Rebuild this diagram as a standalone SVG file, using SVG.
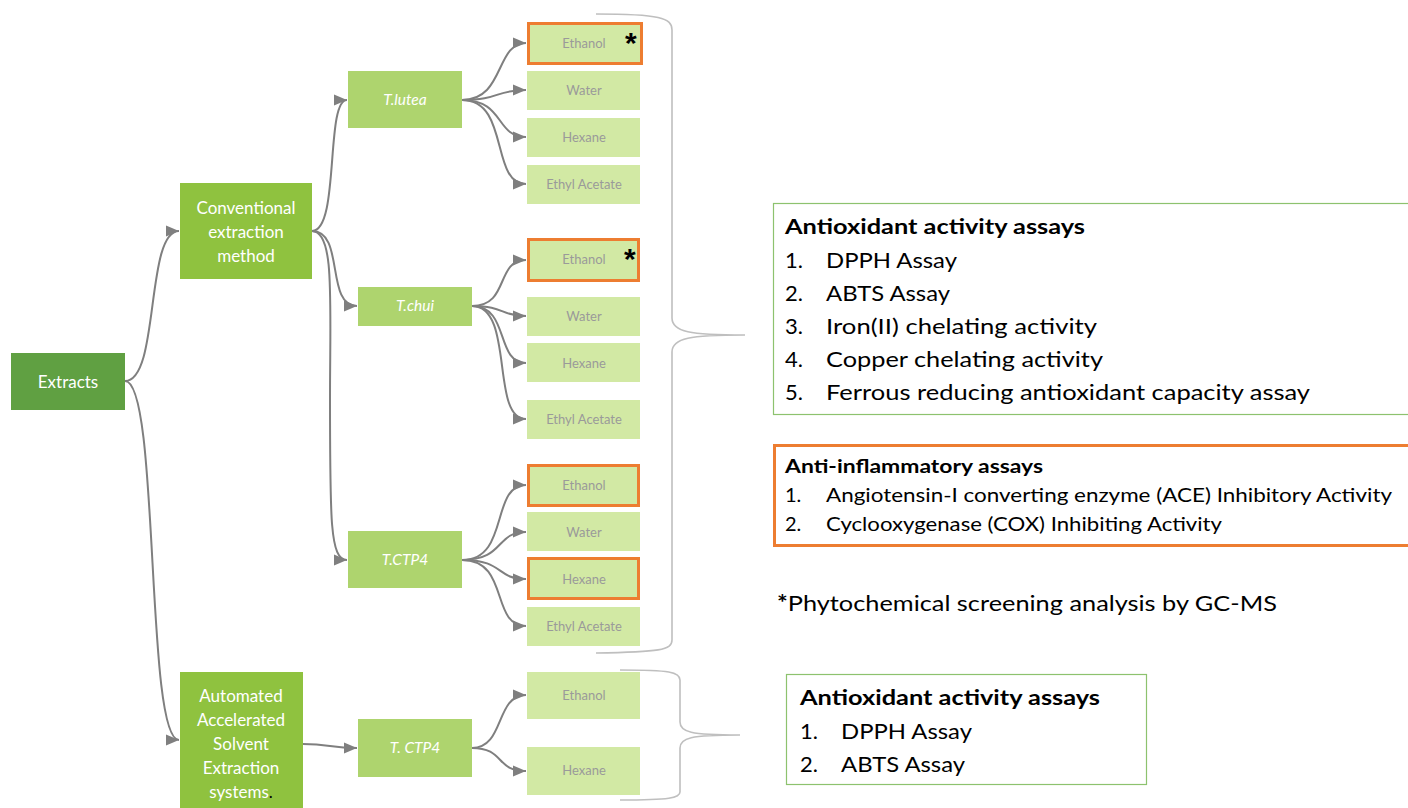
<svg xmlns="http://www.w3.org/2000/svg" width="1408" height="808" viewBox="0 0 1408 808">
<style>
.n0{fill:#60a042}
.n1{fill:#8fc23f}
.n2{fill:#aed46e}
.leaf{fill:#d2e9a4}
.hl{fill:none;stroke:#ed7d31;stroke-width:3}
.t1{font-family:Lato,"Liberation Sans",sans-serif;font-size:17px;fill:#ffffff;text-anchor:middle}
.t2{font-family:Lato,"Liberation Sans",sans-serif;font-size:15.5px;fill:#ffffff;text-anchor:middle;font-style:italic}
.tl{font-family:Lato,"Liberation Sans",sans-serif;font-size:13px;fill:#9a9a9a;text-anchor:middle}
.star{font-family:"Liberation Sans",sans-serif;font-size:30px;font-weight:bold;fill:#000}
.c{fill:none;stroke:#7f7f7f;stroke-width:2}
.br{fill:none;stroke:#bfbfbf;stroke-width:1.6}
.h{font-family:Lato,"Liberation Sans",sans-serif;font-weight:bold;fill:#000}
.b{font-family:Lato,"Liberation Sans",sans-serif;fill:#000}
</style>
<defs>
<marker id="ar" markerUnits="userSpaceOnUse" markerWidth="14" markerHeight="14" viewBox="0 0 14 14" refX="13" refY="7" orient="auto">
<path d="M0,1.5 L13,7 L0,12.5 z" fill="#7f7f7f"/>
</marker>
</defs>
<rect width="1408" height="808" fill="#ffffff"/>

<g id="connectors">
<path class="c" marker-end="url(#ar)" d="M125,381 C160,381 145,231 179,231"/>
<path class="c" marker-end="url(#ar)" d="M125,381 C160,381 145,740 179,740"/>
<path class="c" marker-end="url(#ar)" d="M312,231 C340,231 325,100 347,100"/>
<path class="c" marker-end="url(#ar)" d="M312,231 C345,231 325,306 357,306"/>
<path class="c" marker-end="url(#ar)" d="M312,231 C335,231 330,300 330,400 C330,520 330,560 347,560"/>
<path class="c" marker-end="url(#ar)" d="M462,100 C505,100 495,43 526,43"/>
<path class="c" marker-end="url(#ar)" d="M462,100 C500,100 495,90 526,90"/>
<path class="c" marker-end="url(#ar)" d="M462,100 C505,100 495,137 526,137"/>
<path class="c" marker-end="url(#ar)" d="M462,100 C510,100 490,184 526,184"/>
<path class="c" marker-end="url(#ar)" d="M472,306 C510,306 495,260 526,260"/>
<path class="c" marker-end="url(#ar)" d="M472,306 C505,306 500,316 526,316"/>
<path class="c" marker-end="url(#ar)" d="M472,306 C510,306 495,363 526,363"/>
<path class="c" marker-end="url(#ar)" d="M472,306 C515,306 490,419 526,419"/>
<path class="c" marker-end="url(#ar)" d="M462,560 C510,560 490,485 526,485"/>
<path class="c" marker-end="url(#ar)" d="M462,560 C505,560 495,532 526,532"/>
<path class="c" marker-end="url(#ar)" d="M462,560 C505,560 495,579 526,579"/>
<path class="c" marker-end="url(#ar)" d="M462,560 C510,560 490,626 526,626"/>
<path class="c" marker-end="url(#ar)" d="M303,744 C330,744 330,748 357,748"/>
<path class="c" marker-end="url(#ar)" d="M472,748 C505,748 495,695 526,695"/>
<path class="c" marker-end="url(#ar)" d="M472,748 C505,748 495,771 526,771"/>
</g>

<g id="braces">
<path class="br" d="M596,14 C660,14 672,18 672,30 L672,318 C672,332 690,335 745,335 C690,335 672,338 672,352 L672,640 C672,650 660,652 596,653"/>
<path class="br" d="M620,670 C670,670 680,672 680,680 L680,722 C680,732 690,735 740,735 C690,735 680,738 680,748 L680,792 C680,798 670,800 620,800"/>
</g>

<g id="extracts"><rect class="n0" x="11" y="353" width="114" height="57"/><text class="t1" x="68" y="388">Extracts</text></g>
<g id="conventional"><rect class="n1" x="180" y="183" width="132" height="96"/>
<text class="t1" x="246" y="214">Conventional</text><text class="t1" x="246" y="238">extraction</text><text class="t1" x="246" y="262">method</text></g>
<g id="automated"><rect class="n1" x="180" y="672" width="123" height="136"/>
<text class="t1" x="241" y="702">Automated</text><text class="t1" x="241" y="726">Accelerated</text><text class="t1" x="241" y="750">Solvent</text><text class="t1" x="241" y="774">Extraction</text><text class="t1" x="241" y="798">systems<tspan fill="#000">.</tspan></text></g>

<g id="tlutea"><rect class="n2" x="348" y="71" width="114" height="57"/><text class="t2" x="405" y="105">T.lutea</text></g>
<g id="tchui"><rect class="n2" x="358" y="287" width="114" height="39"/><text class="t2" x="415" y="311">T.chui</text></g>
<g id="tctp4"><rect class="n2" x="348" y="531" width="114" height="57"/><text class="t2" x="405" y="565">T.CTP4</text></g>
<g id="tctp4b"><rect class="n2" x="358" y="719" width="114" height="58"/><text class="t2" x="415" y="753">T. CTP4</text></g>

<g id="lutea-ethanol"><rect class="leaf" x="527" y="23" width="114" height="40"/><rect class="hl" x="528.5" y="23.5" width="113" height="40"/><text class="tl" x="584" y="48">Ethanol</text><text class="star" x="625" y="53">*</text></g>
<g id="lutea-water"><rect class="leaf" x="527" y="71" width="113" height="39"/><text class="tl" x="584" y="95">Water</text></g>
<g id="lutea-hexane"><rect class="leaf" x="527" y="118" width="113" height="39"/><text class="tl" x="584" y="142">Hexane</text></g>
<g id="lutea-ethyl"><rect class="leaf" x="527" y="165" width="113" height="39"/><text class="tl" x="584" y="189">Ethyl Acetate</text></g>

<g id="chui-ethanol"><rect class="leaf" x="527" y="239" width="113" height="42"/><rect class="hl" x="528.5" y="239.5" width="110" height="41"/><text class="tl" x="584" y="264">Ethanol</text><text class="star" x="624" y="269">*</text></g>
<g id="chui-water"><rect class="leaf" x="527" y="297" width="113" height="39"/><text class="tl" x="584" y="321">Water</text></g>
<g id="chui-hexane"><rect class="leaf" x="527" y="343" width="113" height="39"/><text class="tl" x="584" y="368">Hexane</text></g>
<g id="chui-ethyl"><rect class="leaf" x="527" y="400" width="113" height="39"/><text class="tl" x="584" y="424">Ethyl Acetate</text></g>

<g id="ctp4-ethanol"><rect class="leaf" x="527" y="464" width="113" height="43"/><rect class="hl" x="528.5" y="465.5" width="110" height="40"/><text class="tl" x="584" y="490">Ethanol</text></g>
<g id="ctp4-water"><rect class="leaf" x="527" y="512" width="113" height="39"/><text class="tl" x="584" y="537">Water</text></g>
<g id="ctp4-hexane"><rect class="leaf" x="527" y="557" width="113" height="43"/><rect class="hl" x="528.5" y="558.5" width="110" height="40"/><text class="tl" x="584" y="584">Hexane</text></g>
<g id="ctp4-ethyl"><rect class="leaf" x="527" y="607" width="113" height="39"/><text class="tl" x="584" y="631">Ethyl Acetate</text></g>

<g id="ase-ethanol"><rect class="leaf" x="527" y="672" width="113" height="47"/><text class="tl" x="584" y="700">Ethanol</text></g>
<g id="ase-hexane"><rect class="leaf" x="527" y="747" width="113" height="48"/><text class="tl" x="584" y="775">Hexane</text></g>

<g id="antioxidant1">
<rect x="773.5" y="203.5" width="640" height="211" fill="none" stroke="#8dc26e" stroke-width="1.2"/>
<text class="h" x="785" y="234" font-size="21" textLength="300" lengthAdjust="spacingAndGlyphs">Antioxidant activity assays</text>
<text class="b" font-size="22" x="785" y="268">1.</text><text class="b" font-size="22" x="826" y="268" textLength="131" lengthAdjust="spacingAndGlyphs">DPPH Assay</text>
<text class="b" font-size="22" x="785" y="301">2.</text><text class="b" font-size="22" x="826" y="301" textLength="124" lengthAdjust="spacingAndGlyphs">ABTS Assay</text>
<text class="b" font-size="22" x="785" y="334">3.</text><text class="b" font-size="22" x="826" y="334" textLength="271" lengthAdjust="spacingAndGlyphs">Iron(II) chelating activity</text>
<text class="b" font-size="22" x="785" y="367">4.</text><text class="b" font-size="22" x="826" y="367" textLength="277" lengthAdjust="spacingAndGlyphs">Copper chelating activity</text>
<text class="b" font-size="22" x="785" y="400">5.</text><text class="b" font-size="22" x="826" y="400" textLength="484" lengthAdjust="spacingAndGlyphs">Ferrous reducing antioxidant capacity assay</text>
</g>

<g id="antiinflammatory">
<rect x="774.5" y="445.5" width="640" height="100" fill="none" stroke="#ed7d31" stroke-width="3"/>
<text class="h" x="785" y="473" font-size="19" textLength="258" lengthAdjust="spacingAndGlyphs">Anti-inflammatory assays</text>
<text class="b" font-size="20" x="785" y="502">1.</text><text class="b" font-size="20" x="826" y="502" textLength="566" lengthAdjust="spacingAndGlyphs">Angiotensin-I converting enzyme (ACE) Inhibitory Activity</text>
<text class="b" font-size="20" x="785" y="531">2.</text><text class="b" font-size="20" x="826" y="531" textLength="396" lengthAdjust="spacingAndGlyphs">Cyclooxygenase (COX) Inhibiting Activity</text>
</g>

<g id="footnote"><text class="b" font-size="22" x="777" y="611" textLength="500" lengthAdjust="spacingAndGlyphs"><tspan font-weight="bold">*</tspan>Phytochemical screening analysis by GC-MS</text></g>

<g id="antioxidant2">
<rect x="786.5" y="674.5" width="360" height="110" fill="none" stroke="#8dc26e" stroke-width="1.2"/>
<text class="h" x="800" y="705" font-size="21" textLength="300" lengthAdjust="spacingAndGlyphs">Antioxidant activity assays</text>
<text class="b" font-size="22" x="800" y="739">1.</text><text class="b" font-size="22" x="841" y="739" textLength="131" lengthAdjust="spacingAndGlyphs">DPPH Assay</text>
<text class="b" font-size="22" x="800" y="772">2.</text><text class="b" font-size="22" x="841" y="772" textLength="124" lengthAdjust="spacingAndGlyphs">ABTS Assay</text>
</g>
</svg>
